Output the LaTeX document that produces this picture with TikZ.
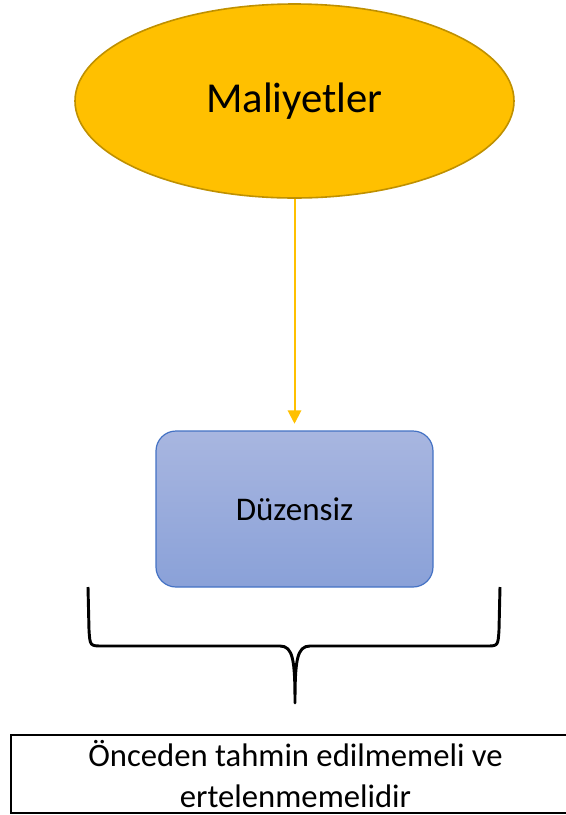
\documentclass[tikz,border=0pt]{standalone}
\usepackage{fontspec}
\setmainfont{Carlito}
\usetikzlibrary{arrows.meta,shapes.geometric}
\definecolor{gold}{HTML}{FFC000}
\definecolor{golddark}{HTML}{BF9000}
\definecolor{boxblue}{HTML}{4472C4}
\definecolor{boxtop}{RGB}{168,182,224}
\definecolor{boxbot}{RGB}{138,161,216}
\begin{document}
\begin{tikzpicture}[x=0.75pt,y=-0.75pt,
  costnode/.style={ellipse,draw=golddark,line width=1.2pt,fill=gold,inner sep=0pt,
    minimum width=329.25pt,minimum height=145.5pt,font=\fontsize{32}{38}\selectfont},
  kindbox/.style={rectangle,rounded corners=15pt,draw=boxblue,line width=0.9pt,
    top color=boxtop,bottom color=boxbot,minimum width=207.75pt,minimum height=117pt,
    font=\fontsize{24.8}{30}\selectfont},
  notebox/.style={rectangle,draw=black,line width=1.5pt,minimum width=426.75pt,
    minimum height=58.5pt,inner sep=0pt,align=center,font=\fontsize{24.5}{31}\selectfont}]
  \clip (0,0) rectangle (566,815);
  \useasboundingbox (0,0) rectangle (566,815);
  \node[costnode] (cost) at (294.5,101) {Maliyetler};
  \node[kindbox] (irregular) at (294.5,509) {Düzensiz};
  \draw[gold,line width=1.5pt,-{Triangle[width=10pt,length=10pt]},shorten >=5pt]
    (cost.south -| irregular.north) -- (irregular.north);
  % kume parantezi
  \draw[line width=2.2pt,line join=round]
    (88,587) -- (89,630) .. controls (90,646) .. (103,646) -- (280,646)
    .. controls (293,646) and (295,660) .. (295,703)
    .. controls (295,660) and (297,646) .. (310,646) -- (486,646)
    .. controls (498,646) .. (499,630) -- (500,587);
  \node[notebox] (note) at (295.5,774) {Önceden tahmin edilmemeli ve\\ertelenmemelidir};
\end{tikzpicture}
\end{document}
